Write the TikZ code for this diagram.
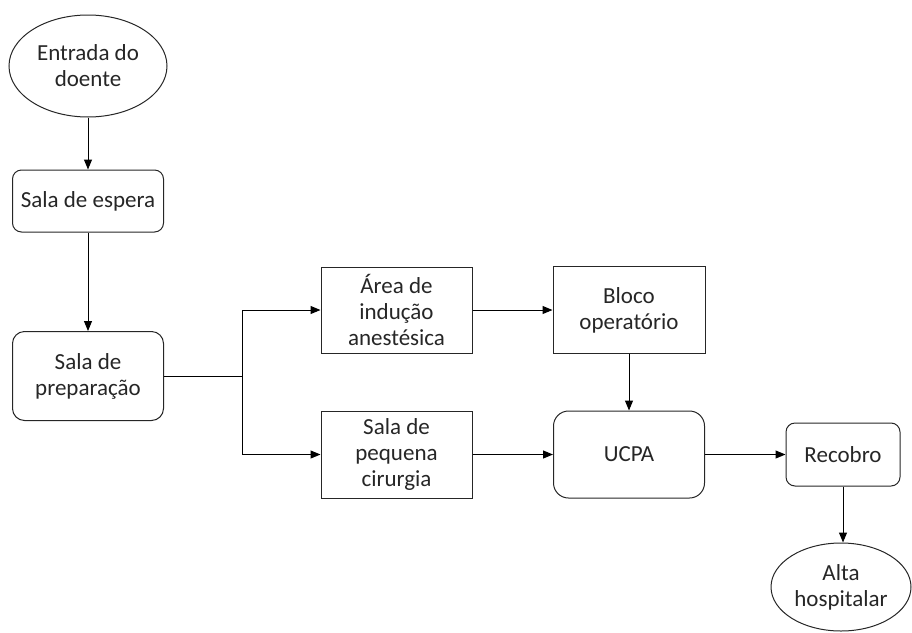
\documentclass[tikz,border=0pt]{standalone}
\usepackage{fontspec}
\setmainfont{Carlito}
\usetikzlibrary{shapes.geometric,arrows.meta}
\begin{document}
\begin{tikzpicture}[x=1pt,y=-1pt,
  every node/.style={font=\fontsize{23}{26}\selectfont, align=center, inner sep=0pt, text=black!85},
  base/.style={draw=black!85, line width=1pt},
  oval/.style={base, ellipse},
  rbox/.style={base, rectangle, rounded corners=9pt},
  sbox/.style={base, rectangle},
  flow/.style={black, line width=1pt, -{Triangle[length=10pt,width=8pt]}},
  plain/.style={black, line width=1pt}]
  \useasboundingbox (0,0) rectangle (912,632);
  % nodes
  \node[oval, minimum width=158pt, minimum height=102pt] (start) at (88,66) {Entrada do\\doente};
  \node[rbox, minimum width=151pt, minimum height=62pt] (espera) at (88,201) {Sala de espera};
  \node[rbox, minimum width=151pt, minimum height=89pt, rounded corners=12pt] (prep) at (88,376) {Sala de\\preparação};
  \node[sbox, minimum width=151pt, minimum height=86pt] (ind) at (396.5,310) {Área de\\indução\\anestésica};
  \node[sbox, minimum width=152pt, minimum height=87pt] (bloco) at (629,310) {Bloco\\operatório};
  \node[sbox, minimum width=151pt, minimum height=87pt] (peq) at (396.5,454.5) {Sala de\\pequena\\cirurgia};
  \node[rbox, minimum width=151pt, minimum height=87pt, rounded corners=15pt] (ucpa) at (629,454.5) {UCPA};
  \node[rbox, minimum width=114pt, minimum height=63pt] (recobro) at (843,454.5) {Recobro};
  \node[oval, minimum width=140pt, minimum height=88pt] (alta) at (841,587) {Alta\\hospitalar};
  % connectors
  \coordinate (split) at (242,376);
  \draw[flow] (start) -- (espera);
  \draw[flow] (espera) -- (prep);
  \draw[plain] (prep.east) -- (split);
  \draw[flow] (split) |- (ind.west);
  \draw[flow] (split) |- (peq.west);
  \draw[flow] (ind.east) -- (ind.east -| bloco.west);
  \draw[flow] (bloco) -- (ucpa);
  \draw[flow] (peq) -- (ucpa);
  \draw[flow] (ucpa) -- (recobro);
  \draw[flow] (recobro.south) -- (recobro.south |- alta.north);
\end{tikzpicture}
\end{document}
